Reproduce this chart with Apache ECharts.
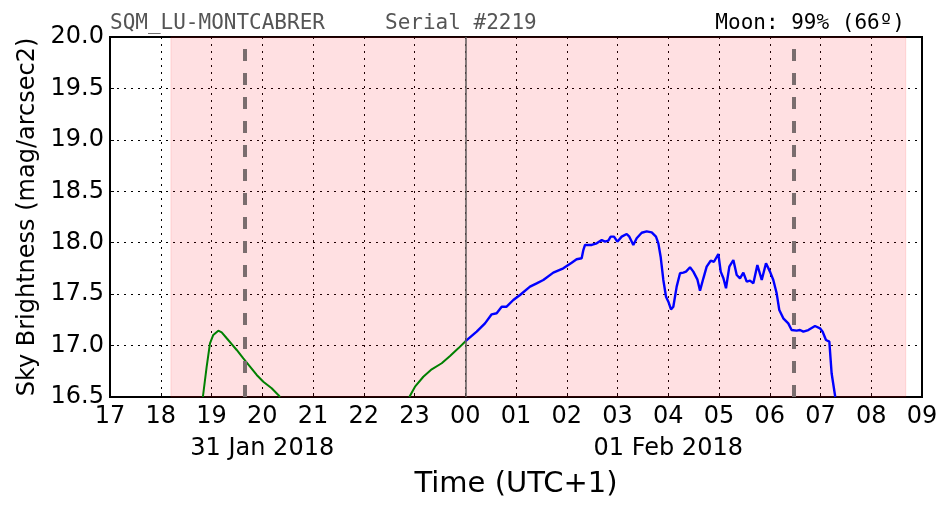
<!DOCTYPE html>
<html>
<head>
<meta charset="utf-8">
<script src="https://cdn.jsdelivr.net/npm/echarts@6/dist/echarts.min.js"></script>
<style>html,body{margin:0;padding:0;background:#fff}#c{width:952px;height:512px}</style>
</head>
<body>
<div id="c"></div>
<script>
// ---- data (time in decimal hours since 00:00 of 31 Jan 2018; >24 = next day) ----
var eveningT = [18.83, 18.905, 18.97, 19.035, 19.134, 19.201, 19.300, 19.398, 19.497, 19.627, 19.759, 19.891, 20.021, 20.186, 20.316, 20.35];
var eveningM = [16.50, 16.795, 17.022, 17.103, 17.145, 17.129, 17.071, 17.015, 16.957, 16.876, 16.795, 16.714, 16.649, 16.585, 16.520, 16.50];

var lateT = [22.898, 23.01, 23.174, 23.339, 23.536, 23.70, 23.863, 24.0];
var lateM = [16.50, 16.60, 16.697, 16.769, 16.828, 16.899, 16.973, 17.04];

var nightT = [24.0, 24.225, 24.389, 24.521, 24.619, 24.718, 24.815, 24.947, 25.079, 25.276, 25.407, 25.538, 25.735, 25.932, 26.097, 26.195, 26.294, 26.327, 26.36, 26.491, 26.59, 26.689, 26.754, 26.819, 26.866, 26.931, 26.997, 27.083, 27.181, 27.233, 27.312, 27.378, 27.477, 27.575, 27.674, 27.758, 27.805, 27.85, 27.903, 27.956, 28.002, 28.054, 28.10, 28.166, 28.232, 28.297, 28.35, 28.429, 28.494, 28.573, 28.626, 28.692, 28.757, 28.836, 28.901, 28.987, 29.034, 29.087, 29.138, 29.204, 29.283, 29.349, 29.414, 29.48, 29.546, 29.611, 29.677, 29.756, 29.842, 29.926, 30.005, 30.07, 30.136, 30.188, 30.267, 30.365, 30.431, 30.53, 30.596, 30.662, 30.76, 30.892, 30.99, 31.042, 31.108, 31.174, 31.219, 31.285, 31.29];
var nightM = [17.04, 17.135, 17.216, 17.304, 17.314, 17.378, 17.378, 17.443, 17.492, 17.573, 17.605, 17.638, 17.709, 17.751, 17.806, 17.839, 17.849, 17.929, 17.978, 17.978, 17.994, 18.026, 18.010, 18.020, 18.059, 18.059, 18.010, 18.059, 18.085, 18.059, 17.978, 18.043, 18.097, 18.110, 18.101, 18.059, 17.994, 17.864, 17.638, 17.475, 17.427, 17.352, 17.378, 17.573, 17.703, 17.709, 17.719, 17.761, 17.719, 17.644, 17.534, 17.654, 17.767, 17.825, 17.815, 17.890, 17.719, 17.654, 17.557, 17.767, 17.832, 17.686, 17.654, 17.709, 17.621, 17.631, 17.605, 17.783, 17.638, 17.800, 17.719, 17.638, 17.508, 17.346, 17.265, 17.216, 17.151, 17.145, 17.151, 17.135, 17.151, 17.190, 17.168, 17.135, 17.054, 17.038, 16.731, 16.52, 16.50];

var nightBand = [18.2, 32.68];        // sunset .. sunrise (shaded)
var moonTimes = [19.66, 30.48];       // moon events (dashed)
var midnight = [24];
var dateTicks = [20, 28];
var dateLabels = ['31 Jan 2018', '01 Feb 2018'];
var xRange = [17, 33];
var yRange = [16.5, 20.0];
var titleLeft = 'SQM_LU-MONTCABRER';
var titleMid = 'Serial #2219';
var titleRight = 'Moon: 99% (66º)';

function zip(a, b) { return a.map(function (v, i) { return [v, b[i]]; }); }

var chart = echarts.init(document.getElementById('c'), null, { renderer: 'canvas' });
var F = 'DejaVu Sans';
var dotted = { color: '#000', width: 1, type: [2, 5] };
var monoStyle = function (c) { return { fontFamily: 'DejaVu Sans Mono', fontSize: 21, fontWeight: 'normal', color: c, lineHeight: 24 }; };

var option = {
  animation: false,
  backgroundColor: '#fff',
  title: [
    { text: titleLeft, left: 110, top: 12, padding: 0, z: 20, textStyle: monoStyle('#555') },
    { text: titleMid, left: 385, top: 12, padding: 0, z: 20, textStyle: monoStyle('#555') },
    { text: titleRight, right: 47, top: 12, padding: 0, z: 20, textStyle: monoStyle('#000') }
  ],
  grid: { left: 110, right: 30, top: 37, bottom: 115, show: true, borderColor: '#000', borderWidth: 2, backgroundColor: 'transparent' },
  xAxis: [{
    type: 'value', min: xRange[0], max: xRange[1], interval: 1,
    name: 'Time (UTC+1)', nameLocation: 'middle', nameGap: 73,
    nameTextStyle: { fontFamily: F, fontSize: 29, color: '#000' },
    axisLine: { show: false },
    axisTick: { show: true, inside: true, length: 4, lineStyle: { color: '#000' } },
    axisLabel: { fontFamily: F, fontSize: 24, color: '#000', margin: 8,
      formatter: function (v) { var h = Math.round(v) % 24; return (h < 10 ? '0' : '') + h; } },
    splitLine: { show: true, lineStyle: dotted }
  }, {
    type: 'value', min: xRange[0], max: xRange[1], interval: 1, position: 'bottom', offset: 32,
    axisLine: { show: false }, axisTick: { show: false }, splitLine: { show: false },
    axisLabel: { fontFamily: F, fontSize: 24, color: '#000', margin: 8,
      formatter: function (v) { var i = dateTicks.indexOf(Math.round(v)); return i >= 0 ? dateLabels[i] : ''; } }
  }],
  yAxis: {
    type: 'value', min: yRange[0], max: yRange[1], interval: 0.5,
    name: 'Sky Brightness (mag/arcsec2)', nameLocation: 'middle', nameGap: 70,
    nameTextStyle: { fontFamily: F, fontSize: 24, color: '#000' },
    axisLine: { show: false },
    axisTick: { show: true, inside: true, length: 4, lineStyle: { color: '#000' } },
    axisLabel: { fontFamily: F, fontSize: 24, color: '#000', margin: 6, formatter: function (v) { return v.toFixed(1); } },
    splitLine: { show: true, lineStyle: dotted }
  },
  series: [
    {
      type: 'line', data: zip(eveningT, eveningM), showSymbol: false, symbol: 'none',
      lineStyle: { color: '#008000', width: 2 }, z: 3,
      markArea: {
        silent: true,
        itemStyle: { color: 'rgba(255,0,20,0.12)', borderColor: 'rgba(255,0,0,0.12)', borderWidth: 1 },
        data: [[{ xAxis: nightBand[0] }, { xAxis: nightBand[1] }]]
      },
      markLine: {
        silent: true, symbol: ['none', 'none'], label: { show: false },
        data: moonTimes.map(function (t) { return { xAxis: t, lineStyle: { color: '#7a6d6e', width: 4, type: [12, 12] } }; })
          .concat(midnight.map(function (t) { return { xAxis: t, lineStyle: { color: '#5f5a5a', width: 1.5, type: 'solid' } }; }))
      }
    },
    { type: 'line', data: zip(lateT, lateM), showSymbol: false, symbol: 'none', lineStyle: { color: '#008000', width: 2 }, z: 3 },
    { type: 'line', data: zip(nightT, nightM), showSymbol: false, symbol: 'none', lineStyle: { color: '#0000ff', width: 2.4 }, z: 3 }
  ]
};
chart.setOption(option);
</script>
</body>
</html>
